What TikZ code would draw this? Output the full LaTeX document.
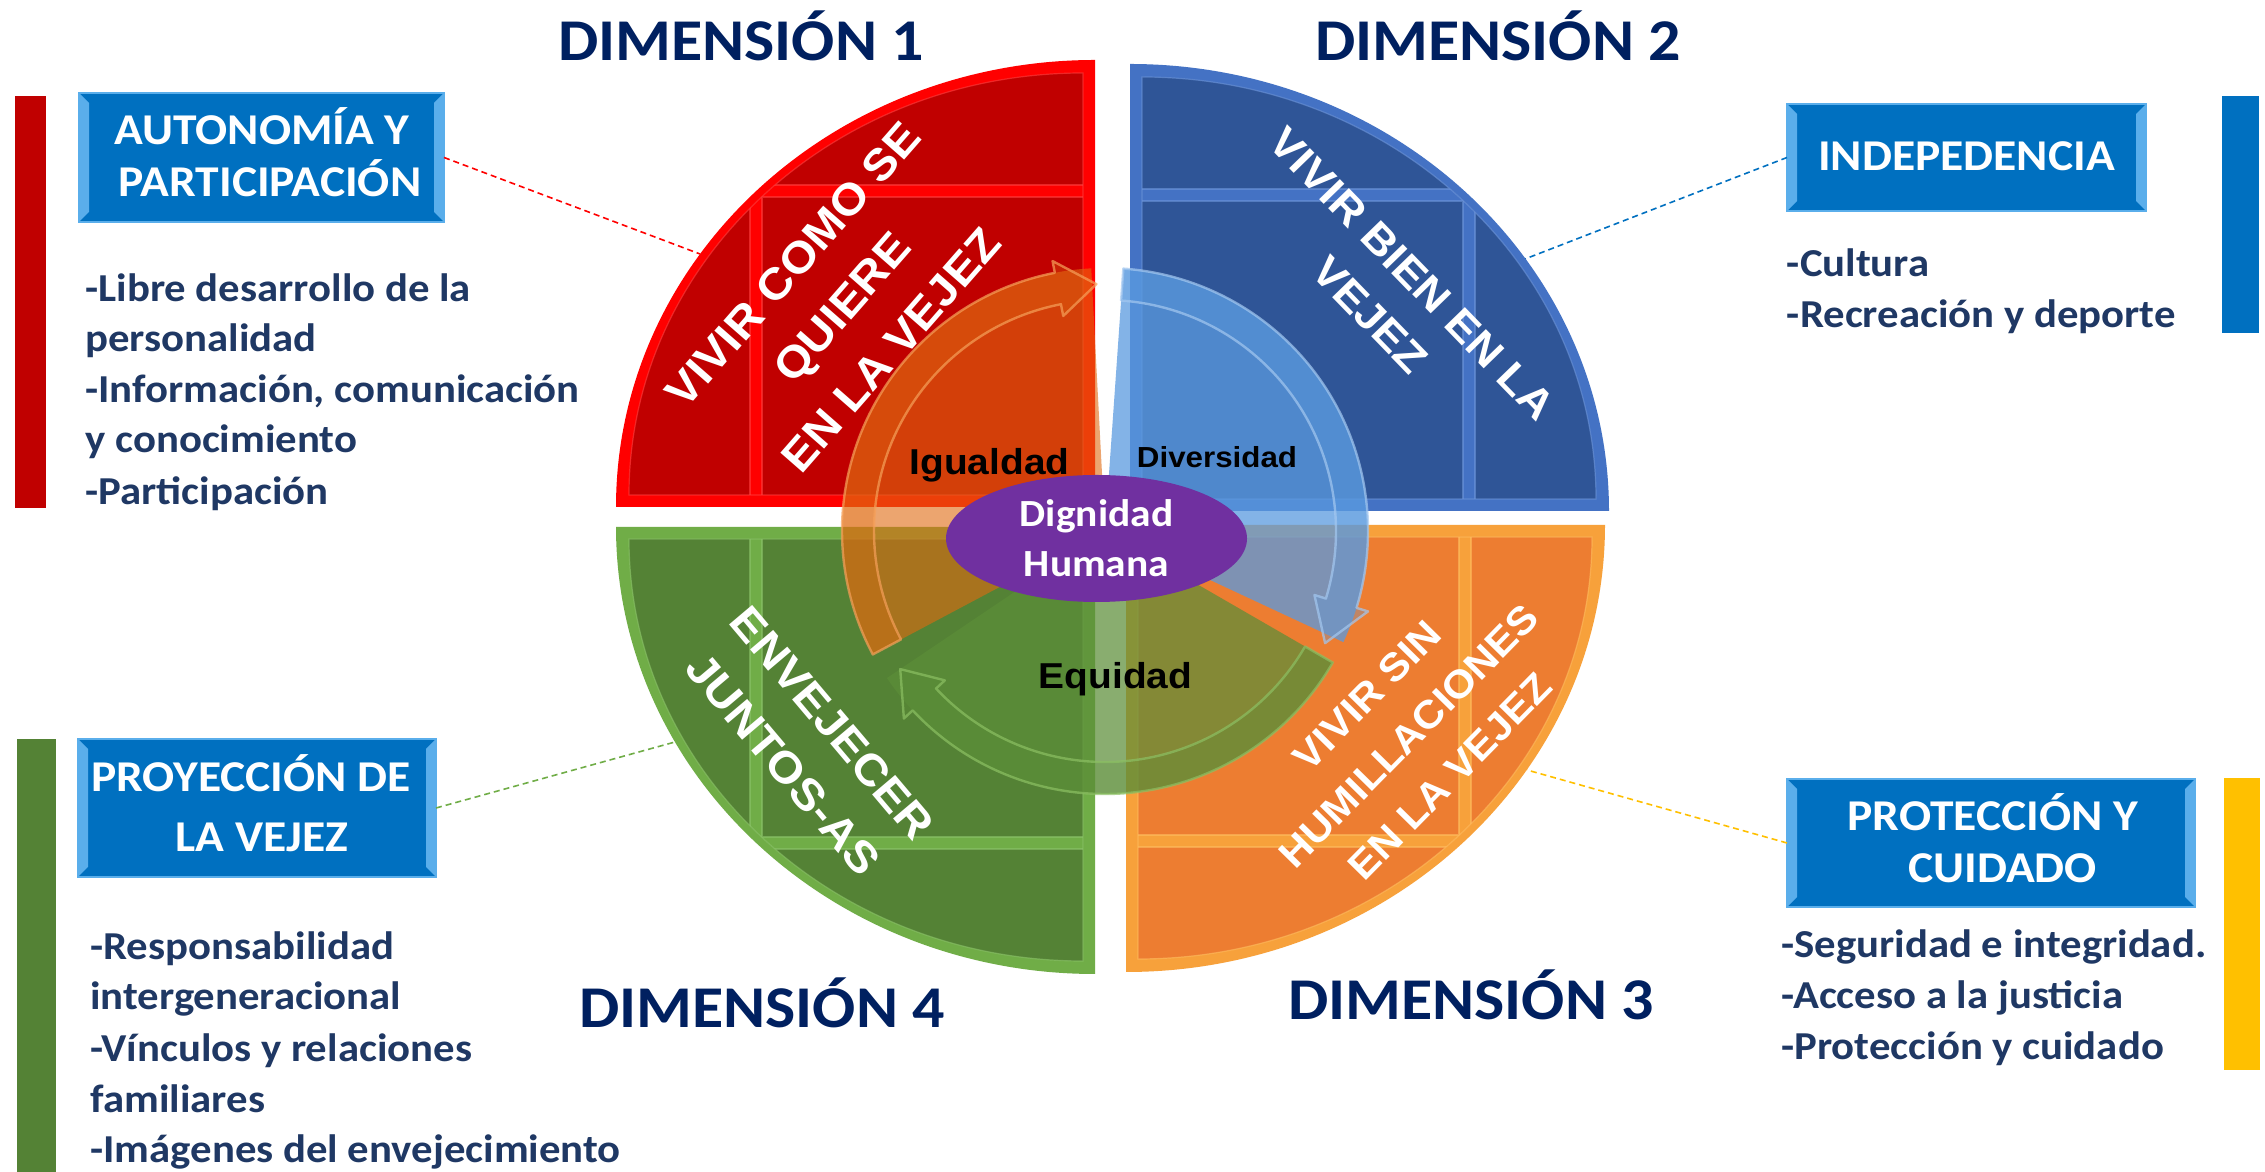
\documentclass[tikz,border=0pt]{standalone}
\usepackage{fontspec}
\setmainfont{Carlito}[FakeStretch=1.08]
\newfontfamily\lsans{Liberation Sans}[FakeStretch=1.08]
\usetikzlibrary{shapes.geometric}
\definecolor{navy}{HTML}{002060}
\definecolor{bodyc}{HTML}{1F3864}
\definecolor{boxblue}{HTML}{0070C0}
\definecolor{boxbevel}{HTML}{5AAEEB}
\definecolor{qred}{HTML}{C00000}
\definecolor{qrede}{HTML}{FF0000}
\definecolor{qredh}{HTML}{FF4040}
\definecolor{qblue}{HTML}{2F5597}
\definecolor{qbluee}{HTML}{4472C4}
\definecolor{qblueh}{HTML}{6E96DA}
\definecolor{qgreen}{HTML}{548235}
\definecolor{qgreene}{HTML}{70AD47}
\definecolor{qgreenh}{HTML}{8CC46A}
\definecolor{qorange}{HTML}{ED7D31}
\definecolor{qorangee}{HTML}{F7A13B}
\definecolor{qorangeh}{HTML}{FFBE60}
\definecolor{wor}{HTML}{E06A10}
\definecolor{wbl}{HTML}{5A9ADF}
\definecolor{wgr}{HTML}{5C8E38}
\definecolor{wors}{HTML}{F5A05A}
\definecolor{wbls}{HTML}{A4C8F0}
\definecolor{wgrs}{HTML}{8CC063}
\definecolor{baryellow}{HTML}{FFC000}
\definecolor{dpurple}{HTML}{7030A0}
\newcommand{\qpanel}[7]{%
\begin{scope}[shift={(#1,#2)},xscale=#3,yscale=#4]
 \fill[#6] (0,0) -- (479,0) arc[start angle=0,end angle=90,x radius=479,y radius=447] -- cycle;
 \fill[#5] (12,12) -- (466,12) arc[start angle=0,end angle=90,x radius=454,y radius=422] -- cycle;
 \begin{scope}
  \clip (12,12) -- (466,12) arc[start angle=0,end angle=90,x radius=454,y radius=422] -- cycle;
  \fill[#6] (333,12) -- (333,310) -- (12,310) -- (12,322) -- (345,322) -- (345,12) -- cycle;
  \draw[#7, line width=0.6pt, opacity=.6] (333,12) -- (333,310) -- (12,310);
  \draw[#7, line width=0.6pt, opacity=.6] (345,12) -- (345,322) -- (12,322);
 \end{scope}
 \draw[#7, line width=0.6pt, opacity=.6] (12,12) -- (466,12) arc[start angle=0,end angle=90,x radius=454,y radius=422] -- cycle;
\end{scope}}
\begin{document}
\begin{tikzpicture}[x=0.5pt,y=0.5pt,
  title/.style={text=navy, font=\bfseries\fontsize{29.6}{34}\selectfont, inner sep=0, anchor=base},
  htext/.style={text=white, font=\bfseries\fontsize{22}{26}\selectfont, inner sep=0, anchor=base},
  body/.style={text=bodyc, font=\bfseries\fontsize{19.8}{24}\selectfont, inner sep=0, anchor=base west},
  hbox/.style={fill=boxblue, draw=boxbevel, line width=1pt, inner sep=0, outer sep=0,
    path picture={
      \fill[boxbevel] (path picture bounding box.north west) -- ([xshift=5pt,yshift=-5pt]path picture bounding box.north west) -- ([xshift=5pt,yshift=5pt]path picture bounding box.south west) -- (path picture bounding box.south west) -- cycle;
      \fill[boxbevel] (path picture bounding box.north east) -- ([xshift=-5pt,yshift=-5pt]path picture bounding box.north east) -- ([xshift=-5pt,yshift=5pt]path picture bounding box.south east) -- (path picture bounding box.south east) -- cycle;
    }},
  conn/.style={densely dashed, line width=0.8pt},
  qlab/.style={text=white, align=center, inner sep=0},
  inl/.style={text=black, inner sep=0, anchor=base},
  ringarrow/.style={line width=1.2pt, line join=round}
]
\useasboundingbox (0,0) rectangle (2265,1172);
\fill[white] (0,0) rectangle (2265,1172);

% side bars
\fill[qred] (15,664) rectangle (45.5,1076);
\fill[boxblue] (2222,839) rectangle (2259,1076);
\fill[qgreen] (17,0) rectangle (56,433);
\fill[baryellow] (2224,102) rectangle (2260,394);

% titles
\node[title] (d1) at (741,1111) {DIMENSIÓN 1};
\node[title] (d2) at (1498,1111) {DIMENSIÓN 2};
\node[title] (d3) at (1471,152) {DIMENSIÓN 3};
\node[title] (d4) at (762,144) {DIMENSIÓN 4};

% header boxes
\node[hbox, minimum width=182.5pt, minimum height=64.5pt] (autonomia) at (261.5,1014.5) {};
\node[hbox, minimum width=179.5pt, minimum height=53.5pt] (indep) at (1966.5,1014.5) {};
\node[hbox, minimum width=179pt, minimum height=69pt] (proy) at (257,364) {};
\node[hbox, minimum width=204pt, minimum height=64pt] (prot) at (1991,329) {};
\node[htext] (h1a) at (262,1027) {AUTONOMÍA Y};
\node[htext] (h1b) at (270,975) {PARTICIPACIÓN};
\node[htext] (h2) at (1966.5,1001.3) {INDEPEDENCIA};
\node[htext] (h4a) at (251,380.3) {PROYECCIÓN DE};
\node[htext] (h4b) at (262,320.3) {LA VEJEZ};
\node[htext] (h3a) at (1992.7,341.3) {PROTECCIÓN Y};
\node[htext] (h3b) at (2002.7,289.3) {CUIDADO};

% body texts
\node[body] (b1) at (85,870.3) {-Libre desarrollo de la};
\node[body] (b2) at (85,820.3) {personalidad};
\node[body] (b3) at (85,769) {-Información, comunicación};
\node[body] (b4) at (85,719) {y conocimiento};
\node[body] (b5) at (85,667) {-Participación};
\node[body] (b6) at (1786.5,895) {-Cultura};
\node[body] (b7) at (1786.5,844) {-Recreación y deporte};
\node[body] (b8) at (90,212) {-Responsabilidad};
\node[body] (b9) at (90,162) {intergeneracional};
\node[body] (b10) at (90,110.3) {-Vínculos y relaciones};
\node[body] (b11) at (90,59.3) {familiares};
\node[body] (b12) at (90,9) {-Imágenes del envejecimiento};
\node[body] (b13) at (1781,214) {-Seguridad e integridad.};
\node[body] (b14) at (1781,163) {-Acceso a la justicia};
\node[body] (b15) at (1781,112) {-Protección y cuidado};

% connector ends on the quadrants
\coordinate (c1) at (700,918);
\coordinate (c2) at (1525,913);
\coordinate (c3) at (675,430);
\coordinate (c4) at (1527,402);
\draw[conn, qrede] (autonomia.east) -- (c1);
\draw[conn, boxblue] (indep.west) -- (c2);
\draw[conn, qgreene] (proy.east) -- (c3);
\draw[conn, baryellow] (prot.west) -- (c4);

% quadrants
\qpanel{1095}{665}{-1}{1}{qred}{qrede}{qredh}
\qpanel{1130}{661}{1}{1}{qblue}{qbluee}{qblueh}
\qpanel{1095}{645}{-1}{-1}{qgreen}{qgreene}{qgreenh}
\qpanel{1126}{647}{1}{-1}{qorange}{qorangee}{qorangeh}

% wedges and circular arrows
\begin{scope}[shift={(1105,641)}]
 \fill[wor, opacity=.6] (0,0) -- (208:263) arc[start angle=208, end angle=93, radius=263] -- cycle;
 \fill[wbl, opacity=.75] (0,0) -- (86:263) arc[start angle=86, end angle=-25, radius=263] -- cycle;
 \fill[wgr, opacity=.72] (0,0) -- (-30:263) arc[start angle=-30, end angle=-146, radius=263] -- cycle;
 \filldraw[ringarrow, fill=wor, fill opacity=.3, draw=wors, draw opacity=.7]
   (208:263) arc[start angle=208,end angle=101,radius=263] -- (101:275) -- (92:247) -- (101:219) -- (101:231) arc[start angle=101,end angle=208,radius=231] -- cycle;
 \filldraw[ringarrow, fill=wbl, fill opacity=.3, draw=wbls, draw opacity=.7]
   (86:263) arc[start angle=86,end angle=-17,radius=263] -- (-17:275) -- (-27:247) -- (-17:219) -- (-17:231) arc[start angle=-17,end angle=86,radius=231] -- cycle;
 \filldraw[ringarrow, fill=wgr, fill opacity=.3, draw=wgrs, draw opacity=.7]
   (-30:263) arc[start angle=-30,end angle=-137,radius=263] -- (-137:275) -- (-146:247) -- (-137:219) -- (-137:231) arc[start angle=-137,end angle=-30,radius=231] -- cycle;
\end{scope}

% quadrant labels
\node[qlab, font=\lsans\bfseries\fontsize{22}{32.5}\selectfont, rotate=48.8] (l1) at (842,864.6) {VIVIR COMO SE\\QUIERE\\EN LA VEJEZ};
\node[qlab, font=\lsans\bfseries\fontsize{21}{29.5}\selectfont, rotate=-45.9] (l2) at (1391,877.5) {VIVIR BIEN EN LA\\VEJEZ};
\node[qlab, font=\lsans\bfseries\fontsize{22}{32}\selectfont, rotate=-49.8] (l4) at (807.8,428.2) {ENVEJECER\\JUNTOS-AS};
\node[qlab, font=\lsans\bfseries\fontsize{19.5}{29}\selectfont, rotate=45.5] (l3) at (1408.5,436) {VIVIR SIN\\HUMILLACIONES\\EN LA VEJEZ};

% inner labels
\node[inl, font=\lsans\bfseries\fontsize{18}{20}\selectfont] (ig) at (989.5,697) {Igualdad};
\node[inl, font=\lsans\bfseries\fontsize{14.5}{16}\selectfont] (dv) at (1217,704) {Diversidad};
\node[inl, font=\lsans\bfseries\fontsize{18}{20}\selectfont] (eq) at (1115.6,483) {Equidad};

% centre
\node[ellipse, fill=dpurple, minimum width=150.5pt, minimum height=63.5pt, inner sep=0, text=white, align=center, font=\bfseries\fontsize{19.2}{25}\selectfont] (dig) at (1096.5,633.5) {Dignidad\\Humana};
\end{tikzpicture}
\end{document}
